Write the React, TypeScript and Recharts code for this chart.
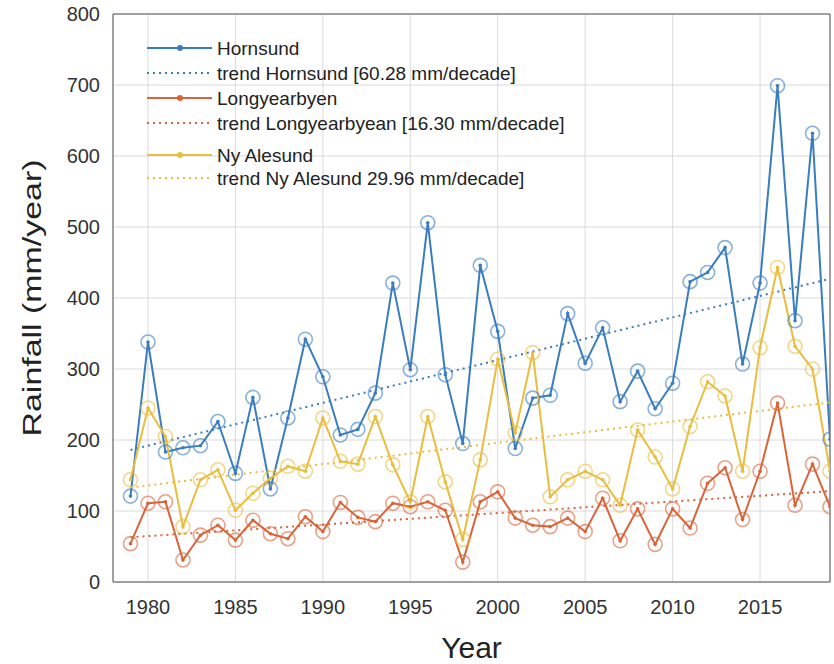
import { LineChart, Line, XAxis, YAxis, CartesianGrid, Legend, ReferenceLine } from 'recharts';

const years = [
  1979, 1980, 1981, 1982, 1983, 1984, 1985, 1986, 1987, 1988, 1989, 1990, 1991, 1992,
  1993, 1994, 1995, 1996, 1997, 1998, 1999, 2000, 2001, 2002, 2003, 2004, 2005, 2006,
  2007, 2008, 2009, 2010, 2011, 2012, 2013, 2014, 2015, 2016, 2017, 2018, 2019,
];

const hornsund = [
  121, 338, 183, 189, 192, 226, 153, 260, 131, 231, 342, 289, 207, 215, 266, 421, 299, 506,
  292, 195, 446, 353, 188, 259, 263, 378, 308, 358, 254, 297, 244, 280, 423, 436, 471, 307,
  421, 699, 368, 632, 201,
];

const longyearbyen = [
  54, 111, 113, 31, 66, 80, 59, 87, 68, 61, 92, 71, 112, 91, 85, 111, 106, 113, 101, 28, 113,
  127, 90, 80, 78, 90, 71, 118, 58, 103, 53, 103, 76, 139, 161, 88, 156, 252, 108, 166, 106,
];

const nyAlesund = [
  144, 245, 205, 78, 144, 158, 101, 125, 146, 163, 156, 231, 170, 166, 233, 165, 113, 233,
  141, 60, 172, 314, 210, 323, 120, 144, 156, 144, 108, 214, 176, 131, 219, 282, 262, 156,
  330, 443, 332, 300, 156,
];

// trend lines: values read at the two ends
const trendYears = [1979, 2019];
const hornsundTrend = [186, 427];
const longyearbyenTrend = [63, 128];
const nyAlesundTrend = [133, 253];

const xTicks = [1980, 1985, 1990, 1995, 2000, 2005, 2010, 2015];
const yTicks = [0, 100, 200, 300, 400, 500, 600, 700, 800];

const BLUE = '#3a7dbf';
const ORANGE = '#d8643a';
const YELLOW = '#e9bd3e';

const data = years.map((year, i) => {
  const t = trendYears.indexOf(year);
  return {
    year,
    hornsund: hornsund[i],
    longyearbyen: longyearbyen[i],
    nyAlesund: nyAlesund[i],
    hornsundTrend: t >= 0 ? hornsundTrend[t] : null,
    longyearbyenTrend: t >= 0 ? longyearbyenTrend[t] : null,
    nyAlesundTrend: t >= 0 ? nyAlesundTrend[t] : null,
  };
});

const legendItems = [
  { label: 'Hornsund', color: BLUE, dotted: false },
  { label: 'trend Hornsund [60.28 mm/decade]', color: BLUE, dotted: true },
  { label: 'Longyearbyen', color: ORANGE, dotted: false },
  { label: 'trend Longyearbyean [16.30 mm/decade]', color: ORANGE, dotted: true },
  { label: 'Ny Alesund', color: YELLOW, dotted: false },
  { label: 'trend Ny Alesund 29.96 mm/decade]', color: YELLOW, dotted: true },
];
const legendRowY = [14, 39, 64, 89, 121, 144];

const makeDot = (color: string) => (props: any) => {
  const { cx, cy, index } = props;
  if (cx == null || cy == null) return <g key={`d-${index}`} />;
  return (
    <g key={`d-${index}`}>
      <circle cx={cx} cy={cy} r={7} fill="none" stroke={color} strokeOpacity={0.6} strokeWidth={1.6} />
      <circle cx={cx} cy={cy} r={1.8} fill={color} />
    </g>
  );
};

function LegendBox() {
  return (
    <svg width={440} height={160} style={{ display: 'block' }}>
      {legendItems.map((item, i) => (
        <g key={item.label}>
          <line
            x1={7}
            x2={72}
            y1={legendRowY[i]}
            y2={legendRowY[i]}
            stroke={item.color}
            strokeWidth={2}
            strokeDasharray={item.dotted ? '2 4' : undefined}
          />
          {!item.dotted && <circle cx={40} cy={legendRowY[i]} r={3} fill={item.color} />}
          <text x={77} y={legendRowY[i]} dy="0.35em" fontSize={19} fill="#222">
            {item.label}
          </text>
        </g>
      ))}
    </svg>
  );
}

export default function App() {
  return (
    <div style={{ position: 'absolute', left: 0, top: 0, fontFamily: '"Liberation Sans", Arial, sans-serif' }}>
      <LineChart width={834} height={664} data={data} margin={{ top: 14, right: 4, left: 40, bottom: 0 }}>
        <CartesianGrid stroke="#dadada" />
        <XAxis
          dataKey="year"
          type="number"
          domain={[1978, 2019]}
          ticks={xTicks}
          allowDataOverflow
          height={82}
          tickLine={false}
          tickMargin={12}
          tick={{ fontSize: 20, fill: '#333' }}
          axisLine={{ stroke: '#555' }}
          label={{ value: 'Year', position: 'insideBottom', offset: 6, fontSize: 30, fill: '#222' }}
        />
        <YAxis
          type="number"
          domain={[0, 800]}
          ticks={yTicks}
          width={73}
          tickLine={false}
          tickMargin={7}
          tick={{ fontSize: 20, fill: '#333' }}
          axisLine={{ stroke: '#555' }}
          label={{
            content: () => (
              <text
                transform="translate(32,298) rotate(-90)"
                textAnchor="middle"
                dy="0.35em"
                fontSize={26}
                fill="#222"
                textLength={277}
                lengthAdjust="spacingAndGlyphs"
              >
                Rainfall (mm/year)
              </text>
            ),
          }}
        />
        <ReferenceLine y={800} stroke="#555" />
        <ReferenceLine x={2019} stroke="#555" />
        <Legend
          layout="horizontal"
          verticalAlign="middle"
          align="center"
          wrapperStyle={{ left: 140, top: 34, width: 440, height: 160 }}
          content={() => <LegendBox />}
        />
        <Line
          dataKey="hornsund"
          stroke={BLUE}
          strokeWidth={2}
          dot={makeDot(BLUE)}
          isAnimationActive={false}
        />
        <Line
          dataKey="hornsundTrend"
          stroke={BLUE}
          strokeWidth={2}
          strokeDasharray="2 4"
          dot={false}
          connectNulls
          isAnimationActive={false}
        />
        <Line
          dataKey="longyearbyen"
          stroke={ORANGE}
          strokeWidth={2}
          dot={makeDot(ORANGE)}
          isAnimationActive={false}
        />
        <Line
          dataKey="longyearbyenTrend"
          stroke={ORANGE}
          strokeWidth={2}
          strokeDasharray="2 4"
          dot={false}
          connectNulls
          isAnimationActive={false}
        />
        <Line
          dataKey="nyAlesund"
          stroke={YELLOW}
          strokeWidth={2}
          dot={makeDot(YELLOW)}
          isAnimationActive={false}
        />
        <Line
          dataKey="nyAlesundTrend"
          stroke={YELLOW}
          strokeWidth={2}
          strokeDasharray="2 4"
          dot={false}
          connectNulls
          isAnimationActive={false}
        />
      </LineChart>
    </div>
  );
}
